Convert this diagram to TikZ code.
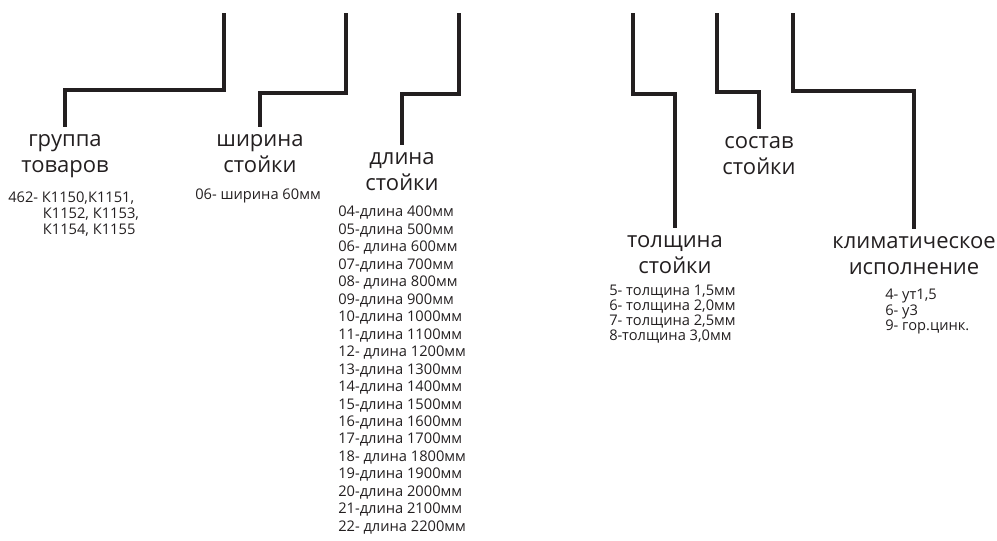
\documentclass[tikz,border=0pt]{standalone}
\usepackage{fontspec}
\setmainfont{Open Sans}
\usetikzlibrary{positioning, calc}
\definecolor{ink}{HTML}{231F20}
\tikzset{%
  heading/.style = {anchor = north, align = center, inner sep = 0pt,
    outer sep = 6pt, text = ink, font = \fontsize{16.5}{19}\selectfont},
  values/.style  = {anchor = north west, align = left, inner sep = 0pt,
    text = ink, font = \fontsize{11}{11.2}\selectfont}, % code lists
  wire/.style    = {draw = ink, line width = 2.5pt} % leader lines
}

\begin{document}
\begin{tikzpicture}[x = 0.75pt, y = -0.75pt]
\useasboundingbox (0,0) rectangle (997,540);
% headings
\draw
	(65,127) node [heading] (grp) {группа\\товаров}
	(260,127) node [heading] (shir) {ширина\\стойки}
	(402,145) node [heading] (dlin) {длина\\стойки}
	(675,228) node [heading] (tolsh) {толщина\\стойки}
	(759,129) node [heading] (sost) {состав\\стойки}
	(914,229) node [heading] (klim) {климатическое\\исполнение};
% top ends of the leaders
\coordinate (tA) at (224,13);
\coordinate (tB) at (346,13);
\coordinate (tC) at (459,13);
\coordinate (tD) at (633,13);
\coordinate (tE) at (717,13);
\coordinate (tF) at (793,13);
% leaders
\draw[wire] (tA) -- ++(0,77) -| (grp);
\draw[wire] (tB) -- ++(0,80) -| (shir);
\draw[wire] (tC) -- ++(0,81) -| (dlin);
\draw[wire] (tD) -- ++(0,81) -| (tolsh);
\draw[wire] (tE) -- ++(0,79) -| (sost);
\draw[wire] (tF) -- ++(0,78) -| (klim);
% code lists
\draw
	(8,192) node [values, font = \fontsize{11}{12}\selectfont] (grpv)
		{462- К1150,К1151,\\
		\hspace*{26pt}К1152, К1153,\\
		\hspace*{26pt}К1154, К1155}
	(195,189) node [values] (shirv) {06- ширина 60мм}
	(338,206) node [values, font = \fontsize{11}{13.1}\selectfont] (dlinv)
		{04-длина 400мм\\05-длина 500мм\\
		06- длина 600мм\\07-длина 700мм\\08- длина 800мм\\09-длина 900мм\\
		10-длина 1000мм\\11-длина 1100мм\\12- длина 1200мм\\13-длина 1300мм\\
		14-длина 1400мм\\15-длина 1500мм\\16-длина 1600мм\\17-длина 1700мм\\
		18- длина 1800мм\\19-длина 1900мм\\20-длина 2000мм\\21-длина 2100мм\\
		22- длина 2200мм}
	(609,285) node [values] (tolshv) {5- толщина 1,5мм\\6- толщина 2,0мм\\
		7- толщина 2,5мм\\8-толщина 3,0мм}
	(885,289) node [values, font = \fontsize{11}{10.6}\selectfont] (klimv)
		{4- ут1,5\\6- у3\\9- гор.цинк.};
\end{tikzpicture}
\end{document}
